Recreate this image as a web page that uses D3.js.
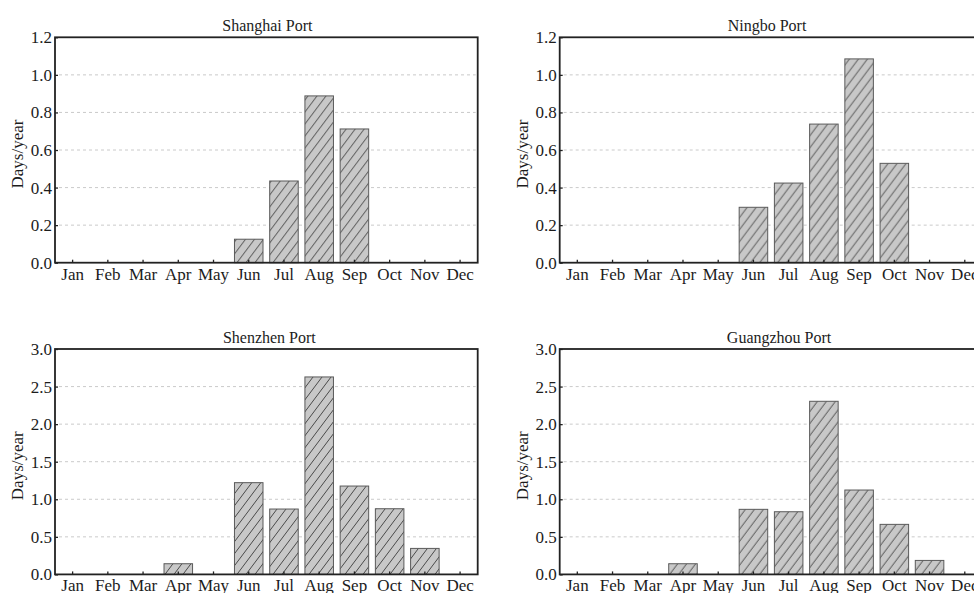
<!DOCTYPE html>
<html>
<head>
<meta charset="utf-8">
<script src="https://cdn.jsdelivr.net/npm/d3@7/dist/d3.min.js"></script>
<style>
  html, body { margin: 0; padding: 0; background: #fff; overflow: hidden; }
  svg { display: block; }
  svg text { font-family: "Liberation Serif", "Times New Roman", serif; }
</style>
</head>
<body>
<svg id="chart" width="974" height="593"></svg>
<script>
// Monthly frequency (days per year) for four ports
const months = ["Jan","Feb","Mar","Apr","May","Jun","Jul","Aug","Sep","Oct","Nov","Dec"];

const shanghaiValues  = [0, 0, 0, 0,     0, 0.125, 0.435, 0.888, 0.712, 0,     0,     0];
const ningboValues    = [0, 0, 0, 0,     0, 0.295, 0.424, 0.738, 1.085, 0.529, 0,     0];
const shenzhenValues  = [0, 0, 0, 0.142, 0, 1.221, 0.870, 2.628, 1.176, 0.874, 0.346, 0];
const guangzhouValues = [0, 0, 0, 0.142, 0, 0.866, 0.834, 2.304, 1.123, 0.666, 0.186, 0];

const topTicks    = [0, 0.2, 0.4, 0.6, 0.8, 1.0, 1.2];
const bottomTicks = [0, 0.5, 1.0, 1.5, 2.0, 2.5, 3.0];

const yLabel = "Days/year";

const panels = [
  { title: "Shanghai Port",  values: shanghaiValues,  ticks: topTicks,    x: 55,    y: 37.3,  titleDx: 1 },
  { title: "Ningbo Port",    values: ningboValues,    ticks: topTicks,    x: 559.7, y: 37.3,  titleDx: -4 },
  { title: "Shenzhen Port",  values: shenzhenValues,  ticks: bottomTicks, x: 55,    y: 349,   titleDx: 3 },
  { title: "Guangzhou Port", values: guangzhouValues, ticks: bottomTicks, x: 559.7, y: 349,   titleDx: 8 }
];

const plotW = 422.7, plotH = 225.4;
const textColor = "#1c1c1c";
const serif = "'Liberation Serif', 'Times New Roman', serif";

const svg = d3.select("#chart");

// Diagonal hatch used to fill every bar
const defs = svg.append("defs");
const pat = defs.append("pattern")
  .attr("id", "hatch")
  .attr("patternUnits", "userSpaceOnUse")
  .attr("width", 9).attr("height", 12);
pat.append("rect").attr("width", 9).attr("height", 12).attr("fill", "#c8c8c8");
pat.append("path")
  .attr("d", "M-9,12 L0,0 M0,12 L9,0 M9,12 L18,0")
  .attr("stroke", "#3a3a3a").attr("stroke-width", 0.9).attr("fill", "none");

panels.forEach(p => {
  const g = svg.append("g").attr("transform", `translate(${p.x},${p.y})`);

  const x = d3.scaleBand().domain(months).range([0, plotW]).paddingInner(0.19).paddingOuter(0.095);
  const yMax = d3.max(p.ticks);
  const y = d3.scaleLinear().domain([0, yMax]).range([plotH, 0]);

  // dashed horizontal grid
  g.append("g").selectAll("line")
    .data(p.ticks.filter(t => t > 0 && t < yMax))
    .join("line")
    .attr("x1", 4).attr("x2", plotW - 2)
    .attr("y1", d => y(d)).attr("y2", d => y(d))
    .attr("stroke", "#c4c4c4").attr("stroke-width", 0.9)
    .attr("stroke-dasharray", "3,3");

  // bars
  const data = months.map((m, i) => ({ m, v: p.values[i] })).filter(d => d.v > 0);
  g.append("g").selectAll("rect")
    .data(data)
    .join("rect")
    .attr("x", d => x(d.m))
    .attr("y", d => y(d.v))
    .attr("width", x.bandwidth())
    .attr("height", d => y(0) - y(d.v))
    .attr("fill", "url(#hatch)")
    .attr("stroke", "#5a5a5a").attr("stroke-width", 1);

  // x axis: inward ticks at month centres, labels below
  const xAxis = d3.axisBottom(x).tickSize(-3).tickPadding(8);
  const xg = g.append("g").attr("transform", `translate(0,${plotH})`).call(xAxis)
    .attr("font-family", serif).attr("font-size", 17);
  xg.select(".domain").remove();
  xg.selectAll(".tick line").attr("stroke", "#222").attr("stroke-width", 1.3);
  xg.selectAll(".tick text")
    .attr("fill", textColor)
    .attr("dy", "0.71em").attr("y", 5);

  // y axis: inward ticks, labels on the left
  const yAxis = d3.axisLeft(y).tickValues(p.ticks).tickFormat(d3.format(".1f")).tickSize(-3).tickPadding(3);
  const yg = g.append("g").call(yAxis)
    .attr("font-family", serif).attr("font-size", 17);
  yg.select(".domain").remove();
  yg.selectAll(".tick line").attr("stroke", "#222").attr("stroke-width", 1.3);
  yg.selectAll(".tick text").attr("fill", textColor);

  // frame around the plot area
  g.append("rect")
    .attr("width", plotW).attr("height", plotH)
    .attr("fill", "none").attr("stroke", "#222").attr("stroke-width", 1.8);

  // title
  g.append("text")
    .attr("x", plotW / 2 + p.titleDx).attr("y", -6)
    .attr("text-anchor", "middle")
    .attr("font-size", 16).attr("fill", textColor)
    .text(p.title);

  // y-axis label
  g.append("text")
    .attr("transform", `translate(${-32},${plotH / 2 + 4}) rotate(-90)`)
    .attr("text-anchor", "middle")
    .attr("font-size", 17).attr("fill", textColor)
    .text(yLabel);
});
</script>
</body>
</html>
